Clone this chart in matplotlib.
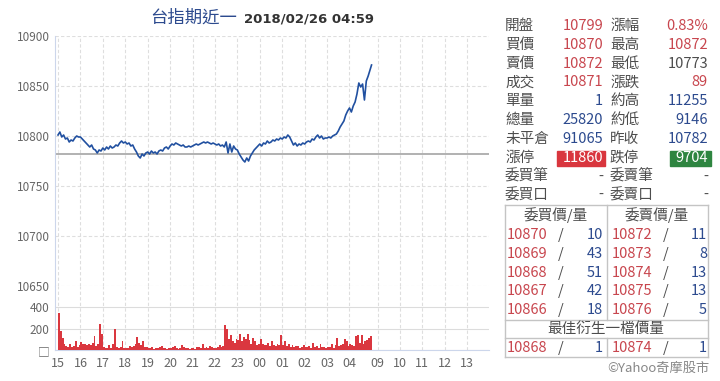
import numpy as np
import matplotlib.pyplot as plt
from matplotlib.patches import Rectangle
from matplotlib.lines import Line2D

plt.rcParams['font.family'] = ['Noto Sans CJK TC', 'DejaVu Sans']

# night session 15:00 -> 04:55, one value every 5 minutes
night_price = [
    10801, 10804, 10799, 10801, 10797, 10798, 10794, 10796, 10795, 10798, 10800, 10799,  # 15
    10799, 10797, 10795, 10793, 10791, 10789, 10791, 10787, 10786, 10783, 10786, 10785,  # 16
    10788, 10786, 10789, 10787, 10790, 10788, 10789, 10791, 10790, 10793, 10795, 10793,  # 17
    10794, 10792, 10793, 10790, 10791, 10787, 10784, 10780, 10778, 10782, 10780, 10783,  # 18
    10784, 10782, 10785, 10783, 10784, 10782, 10785, 10786, 10785, 10788, 10789, 10787,  # 19
    10790, 10792, 10791, 10793, 10792, 10791, 10790, 10791, 10789, 10789, 10790, 10789,  # 20
    10790, 10791, 10792, 10791, 10792, 10793, 10794, 10793, 10794, 10793, 10792, 10793,  # 21
    10792, 10791, 10792, 10790, 10791, 10789, 10794, 10783, 10792, 10784, 10790, 10787,  # 22
    10786, 10782, 10779, 10776, 10774, 10778, 10775, 10780, 10783, 10786, 10788, 10790,  # 23
    10792, 10790, 10793, 10792, 10795, 10793, 10794, 10796, 10795, 10797, 10796, 10798,  # 00
    10797, 10799, 10798, 10801, 10799, 10795, 10791, 10793, 10790, 10792, 10791, 10793,  # 01
    10792, 10794, 10795, 10794, 10797, 10796, 10799, 10801, 10798, 10800, 10797, 10798,  # 02
    10798, 10799, 10798, 10800, 10801, 10802, 10805, 10809, 10812, 10815, 10821, 10825,  # 03
    10828, 10824, 10830, 10834, 10842, 10853, 10849, 10852, 10836, 10855, 10860, 10866,  # 04
]
last_time = 839  # 04:59
last_price = 10871
prev_close = 10782

night_vol = [
    350, 180, 110, 60, 40, 30, 55, 25, 40, 85, 30, 45,
    75, 60, 55, 45, 60, 50, 70, 130, 40, 60, 240, 150,
    30, 20, 15, 45, 20, 60, 200, 25, 15, 30, 80, 20,
    15, 20, 35, 25, 40, 60, 125, 70, 50, 80, 25, 30,
    20, 15, 25, 10, 20, 15, 30, 35, 20, 15, 10, 20,
    15, 25, 40, 20, 10, 15, 45, 25, 15, 20, 10, 15,
    20, 10, 30, 25, 15, 55, 20, 30, 15, 40, 25, 20,
    15, 30, 50, 25, 40, 230, 200, 100, 140, 80, 70, 100,
    90, 150, 80, 120, 100, 150, 90, 60, 110, 80, 50, 60,
    100, 60, 45, 50, 70, 40, 80, 50, 35, 60, 45, 140,
    50, 80, 40, 60, 30, 45, 25, 35, 40, 20, 30, 45,
    25, 30, 40, 20, 70, 25, 35, 20, 60, 30, 25, 20,
    30, 25, 60, 20, 50, 110, 40, 45, 60, 100, 80, 40,
    60, 50, 40, 130, 140, 70, 140, 60, 80, 90, 110, 130,
]

hour_labels = ['15', '16', '17', '18', '19', '20', '21', '22', '23', '00',
               '01', '02', '03', '04', '09', '10', '11', '12', '13']
hour_pos = [0, 60, 120, 180, 240, 300, 360, 420, 480, 540, 600, 660, 720, 780,
            855, 915, 975, 1035, 1095]

price_ticks = [10650, 10700, 10750, 10800, 10850, 10900]
vol_ticks = [0, 200, 400]
vol_labels = ['□', '200', '400']

# quote table
quote_rows = [
    ('開盤', '10799', 'r', '漲幅', '0.83%', 'r'),
    ('買價', '10870', 'r', '最高', '10872', 'r'),
    ('賣價', '10872', 'r', '最低', '10773', 'g'),
    ('成交', '10871', 'r', '漲跌', '89', 'r'),
    ('單量', '1', 'b', '約高', '11255', 'b'),
    ('總量', '25820', 'b', '約低', '9146', 'b'),
    ('未平倉', '91065', 'b', '昨收', '10782', 'b'),
    ('漲停', '11860', 'w', '跌停', '9704', 'w'),
    ('委買筆', '-', 'g', '委賣筆', '-', 'g'),
    ('委買口', '-', 'g', '委賣口', '-', 'g'),
]
bid_price = ['10870', '10869', '10868', '10867', '10866']
bid_qty = ['10', '43', '51', '42', '18']
ask_price = ['10872', '10873', '10874', '10875', '10876']
ask_qty = ['11', '8', '13', '13', '5']
best_row = ('10868', '1', '10874', '1')

RED = '#c8464e'
BLUE = '#2c4a8e'
GRAY = '#4d4d4d'
colors = {'r': RED, 'b': BLUE, 'g': GRAY, 'w': 'white'}

W, H = 720, 381
fig = plt.figure(figsize=(7.2, 3.81), dpi=100)


def fx(x):
    return x / W


def fy(y):
    return 1 - y / H


x0, x1 = 55, 489
ax = fig.add_axes([fx(x0), fy(286), fx(x1 - x0), (286 - 36) / H])
axv = fig.add_axes([fx(x0), fy(350), fx(x1 - x0), (350 - 286) / H], sharex=ax)

scale = 0.3737
xmin = (x0 - 58) / scale
xmax = (x1 - 58) / scale

t = list(np.arange(len(night_price)) * 5) + [last_time]
p = night_price + [last_price]
ax.axhline(prev_close, color='#ababab', lw=1.3, zorder=2)
ax.plot(t, p, color='#2150a0', lw=1.2, zorder=3)
ax.set_xlim(xmin, xmax)
ax.set_ylim(10650, 10900)
ax.set_yticks(price_ticks)
ax.set_xticks(hour_pos)
ax.tick_params(axis='x', labelbottom=False, length=0)
ax.tick_params(axis='y', length=0, labelsize=8.5, colors='#666666', pad=4)
ax.grid(True, color='#dedede', ls=(0, (3, 2)), lw=0.8)

tv = np.arange(len(night_vol)) * 5
axv.bar(tv, night_vol, width=5, align='edge', color='#da373f', lw=0, zorder=3)
axv.set_ylim(0, 600)
axv.set_yticks(vol_ticks)
axv.set_yticklabels(vol_labels)
axv.set_xticks(hour_pos)
axv.set_xticklabels(hour_labels)
axv.tick_params(axis='y', length=0, labelsize=8.5, colors='#666666', pad=4)
axv.tick_params(axis='x', length=0, labelsize=9, colors='#666666', pad=5)
axv.grid(True, axis='x', color='#dedede', ls=(0, (3, 2)), lw=0.8)
axv.grid(True, axis='y', color='#dcdcdc', ls='-', lw=0.8)

for a in (ax, axv):
    for s in ('top', 'right'):
        a.spines[s].set_visible(False)
    a.spines['left'].set_color('#ccd6eb')
    a.spines['bottom'].set_color('#ccd6eb')
ax.spines['bottom'].set_visible(False)

# title
fig.text(fx(237), fy(18), '台指期近一', color='#2c4a8e', fontsize=12.5,
         ha='right', va='center')
fig.text(fx(244), fy(19), '2018/02/26 04:59', color='#333333', fontsize=9.5,
         fontweight='bold', ha='left', va='center', family='DejaVu Sans')

# quote block
fs = 10.5
for i, (l1, v1, c1, l2, v2, c2) in enumerate(quote_rows):
    y = 26 + i * 18.8
    fig.text(fx(505), fy(y), l1, color=GRAY, fontsize=fs, ha='left', va='center')
    fig.text(fx(610), fy(y), l2, color=GRAY, fontsize=fs, ha='left', va='center')
    if c1 == 'w':
        fig.add_artist(Rectangle((fx(557), fy(166)), fx(48), 15 / H,
                                 transform=fig.transFigure, color='#d9363e'))
        fig.add_artist(Rectangle((fx(670), fy(166)), fx(41), 15 / H,
                                 transform=fig.transFigure, color='#2e8540'))
    fig.text(fx(603), fy(y), v1, color=colors[c1], fontsize=fs, ha='right', va='center')
    fig.text(fx(708), fy(y), v2, color=colors[c2], fontsize=fs, ha='right', va='center')

# order book table
lc = '#c4c4c4'


def hline(y, xa=505, xb=708):
    fig.add_artist(Line2D([fx(xa), fx(xb)], [fy(y), fy(y)], color=lc, lw=1,
                          transform=fig.transFigure))


def vline(x, ya, yb):
    fig.add_artist(Line2D([fx(x), fx(x)], [fy(ya), fy(yb)], color=lc, lw=1,
                          transform=fig.transFigure))


for y in (205, 320, 338, 357):
    hline(y)
vline(505, 205, 357)
vline(708, 205, 357)
vline(607, 205, 320)
vline(607, 338, 357)

fig.text(fx(556), fy(215), '委買價/量', color=GRAY, fontsize=fs, ha='center', va='center')
fig.text(fx(657), fy(215), '委賣價/量', color=GRAY, fontsize=fs, ha='center', va='center')


def book_row(y, bp, bq, ap, aq):
    fig.text(fx(507), fy(y), bp, color=RED, fontsize=fs, ha='left', va='center')
    fig.text(fx(558), fy(y), '/', color=GRAY, fontsize=fs, ha='left', va='center')
    fig.text(fx(603), fy(y), bq, color=BLUE, fontsize=fs, ha='right', va='center')
    fig.text(fx(612), fy(y), ap, color=RED, fontsize=fs, ha='left', va='center')
    fig.text(fx(663), fy(y), '/', color=GRAY, fontsize=fs, ha='left', va='center')
    fig.text(fx(707), fy(y), aq, color=BLUE, fontsize=fs, ha='right', va='center')


for i in range(5):
    book_row(235 + i * 18.8, bid_price[i], bid_qty[i], ask_price[i], ask_qty[i])
fig.text(fx(606), fy(329), '最佳衍生一檔價量', color=GRAY, fontsize=fs,
         ha='center', va='center')
book_row(348, *best_row)

fig.text(fx(710), fy(368), '©Yahoo奇摩股市', color='#888888', fontsize=9.5,
         ha='right', va='center')

fig.savefig('out.png', dpi=100)
